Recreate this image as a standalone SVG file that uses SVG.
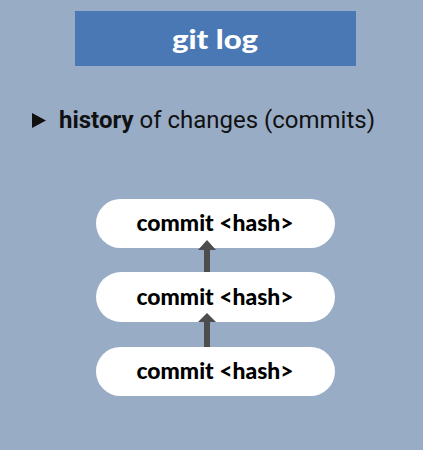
<svg xmlns="http://www.w3.org/2000/svg" width="423" height="450" viewBox="0 0 423 450">
<style>
.pill{fill:#ffffff}
.ct{font-family:"Lato","Open Sans",sans-serif;font-weight:900;font-size:22px;fill:#000;text-anchor:middle}
.conn{stroke:#4d4d4d;stroke-width:6;fill:none}
.head{fill:#4d4d4d}
</style>
<rect width="423" height="450" fill="#98acc6"/>
<g id="title">
<rect x="75" y="11" width="281" height="55" fill="#4a78b5"/>
<text x="215" y="49" font-family="Lato, sans-serif" font-weight="900" font-size="27" fill="#ffffff" text-anchor="middle" textLength="86" lengthAdjust="spacingAndGlyphs">git log</text>
</g>
<g id="bullet">
<polygon points="32,113 46,120.5 32,128" fill="#111"/>
<text x="59" y="128" font-family="Roboto, sans-serif" font-size="23" fill="#111" textLength="316" lengthAdjust="spacingAndGlyphs"><tspan font-weight="bold">history</tspan> of changes (commits)</text>
</g>
<g id="commit1">
<rect class="pill" x="96" y="199" width="239" height="49" rx="24.5"/>
<text class="ct" x="215" y="231" textLength="157" lengthAdjust="spacingAndGlyphs">commit &lt;hash&gt;</text>
</g>
<g id="commit2">
<rect class="pill" x="96" y="272" width="239" height="50" rx="25"/>
<text class="ct" x="215" y="305" textLength="157" lengthAdjust="spacingAndGlyphs">commit &lt;hash&gt;</text>
</g>
<g id="commit3">
<rect class="pill" x="96" y="347" width="239" height="49" rx="24.5"/>
<text class="ct" x="215" y="379" textLength="157" lengthAdjust="spacingAndGlyphs">commit &lt;hash&gt;</text>
</g>
<g id="connectors">
<line class="conn" x1="207" y1="272" x2="207" y2="249"/>
<polygon class="head" points="198,250 207,240 216,250"/>
<line class="conn" x1="207" y1="347" x2="207" y2="321"/>
<polygon class="head" points="198,322 207,313 216,322"/>
</g>
</svg>
